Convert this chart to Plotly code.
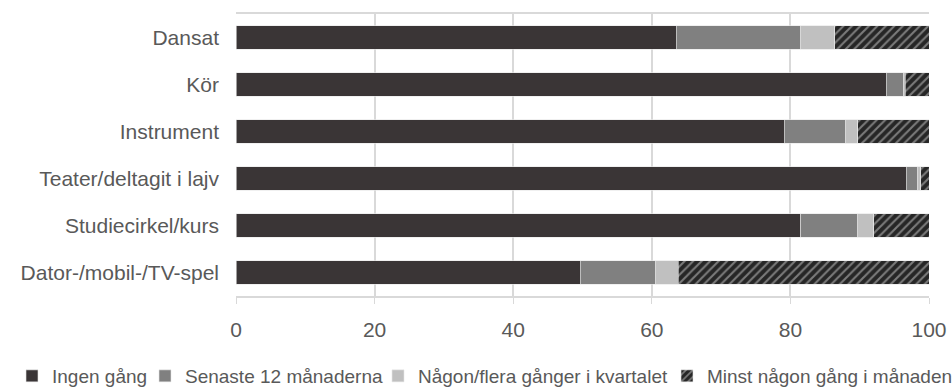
import plotly.graph_objects as go

categories = ["Dansat", "Kör", "Instrument", "Teater/deltagit i lajv",
              "Studiecirkel/kurs", "Dator-/mobil-/TV-spel"]
series_names = ["Ingen gång", "Senaste 12 månaderna",
                "Någon/flera gånger i kvartalet", "Minst någon gång i månaden"]
ingen = [63.5, 93.8, 79.1, 96.7, 81.5, 49.7]
senaste12 = [17.9, 2.5, 8.9, 1.7, 8.2, 10.9]
kvartal = [5.0, 0.3, 1.7, 0.4, 2.3, 3.2]
manad = [13.6, 3.4, 10.3, 1.2, 8.0, 36.2]
x_ticks = [0, 20, 40, 60, 80, 100]

values = [ingen, senaste12, kvartal, manad]
colors = ["#3a3536", "#808080", "#c0c0c0", "#2b2b2b"]

# one legend box per series so the row can be spaced freely
legend_ids = ["legend2", "legend3", "legend4", "legend5"]
legend_x = [12, 145, 378, 667]  # left edge of each legend box, px

W, H = 952, 387

fig = go.Figure()
for i, (name, vals, col) in enumerate(zip(series_names, values, colors)):
    marker = dict(color=col, line=dict(color="#e6e6e6", width=0.6))
    if i == 3:
        marker["pattern"] = dict(shape="/", fgcolor="#d0d0d0", bgcolor="#262626",
                                 size=6, solidity=0.35, fillmode="overlay")
    fig.add_trace(go.Bar(
        y=categories, x=vals, name=name, orientation="h",
        marker=marker, width=0.49, legend=legend_ids[i],
    ))

legend_style = dict(orientation="h", xref="container", xanchor="left",
                    yref="container", y=(H - 376) / H, yanchor="middle",
                    font=dict(size=19, color="#595959"), itemwidth=30,
                    bgcolor="rgba(0,0,0,0)", borderwidth=0)
legends = {lid: dict(legend_style, x=lx / W) for lid, lx in zip(legend_ids, legend_x)}

fig.update_layout(
    barmode="stack",
    width=W, height=H,
    margin=dict(l=236, r=23, t=14, b=91, autoexpand=False),
    paper_bgcolor="white", plot_bgcolor="white",
    font=dict(family="Liberation Sans, Arial, sans-serif", color="#404040"),
    showlegend=True,
    xaxis=dict(range=[0, 100], tickvals=x_ticks, showgrid=True,
               gridcolor="#d9d9d9", gridwidth=1.5, zeroline=False,
               showline=True, linecolor="#d9d9d9", linewidth=1.5, mirror=True,
               ticks="outside", ticklen=6, tickcolor="#d9d9d9",
               ticklabelstandoff=8, automargin=False,
               tickfont=dict(size=21, color="#595959")),
    yaxis=dict(autorange="reversed", showgrid=False, zeroline=False,
               tickfont=dict(size=21, color="#595959"), ticks="",
               ticklabelstandoff=16, automargin=False),
    **legends,
)

fig.write_html("out.html")
